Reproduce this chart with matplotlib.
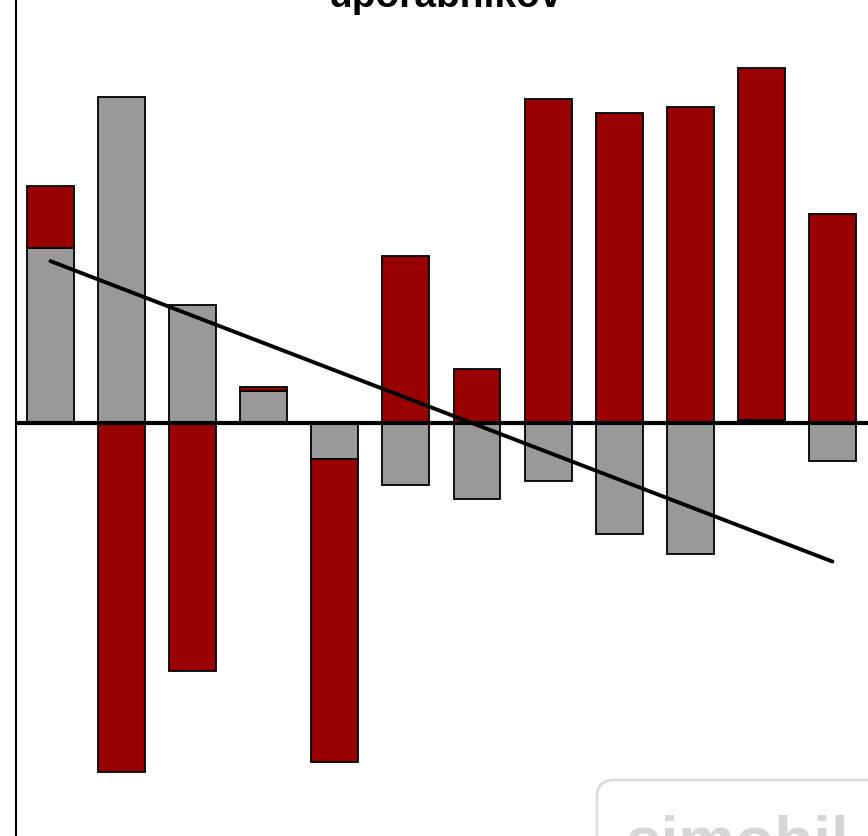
import numpy as np
import matplotlib
matplotlib.use("Agg")
import matplotlib.pyplot as plt
from matplotlib.patches import FancyBboxPatch

# values (arbitrary units, zero = baseline)
grey_vals = [176, 327, 119, 33, -36, -62, -76, -58, -111, -131, 3, -38]
red_vals = [62, -349, -248, 4, -303, 168, 55, 325, 311, 317, 353, 210]
title = "uporabnikov"

GREY = "#999999"
RED = "#990000"

x = np.arange(len(grey_vals))
grey = np.array(grey_vals)
red = np.array(red_vals)

# red stacks on grey when both point the same way, otherwise starts at zero
red_bottom = np.where(np.sign(red) == np.sign(grey), grey, 0)

fig = plt.figure(figsize=(8.68, 8.37), dpi=100)
ax = fig.add_axes([16 / 868, 0, 852 / 868, 1])

ax.bar(x, grey, width=0.66, color=GREY, edgecolor="black", linewidth=1.3, zorder=2)
ax.bar(x, red, width=0.66, bottom=red_bottom, color=RED, edgecolor="black",
       linewidth=1.3, zorder=2)

ax.axhline(0, color="black", linewidth=3, zorder=3)

# linear trend of the grey series
k, b = np.polyfit(x, grey, 1)
ax.plot([x[0], x[-1]], [k * x[0] + b, k * x[-1] + b], color="black",
        linewidth=2.8, solid_capstyle="round", zorder=4)

ax.set_xlim(-0.485, 11.5)
ax.set_ylim(-413, 425)
ax.set_xticks([])
ax.set_yticks([])
for s in ["top", "right", "bottom"]:
    ax.spines[s].set_visible(False)
ax.spines["left"].set_linewidth(1.5)

fig.text(445 / 868, 1 - 7 / 837, title, ha="center", va="baseline",
         fontsize=28, fontweight="bold", family="Liberation Sans")

# watermark logo in the lower right corner
box = FancyBboxPatch((597 / 868, -0.05), 0.4, (837 - 781) / 837 + 0.05,
                     boxstyle="round,pad=0,rounding_size=0.02",
                     transform=fig.transFigure, facecolor="white",
                     edgecolor="#dddddd", linewidth=2, zorder=5)
fig.patches.append(box)
fig.text(626 / 868, 1 - 862 / 837, "simobil", ha="left", va="baseline",
         fontsize=46, fontweight="bold", color="#d6d6d6",
         family="Liberation Sans", zorder=6)

fig.savefig("out.png", dpi=100)
